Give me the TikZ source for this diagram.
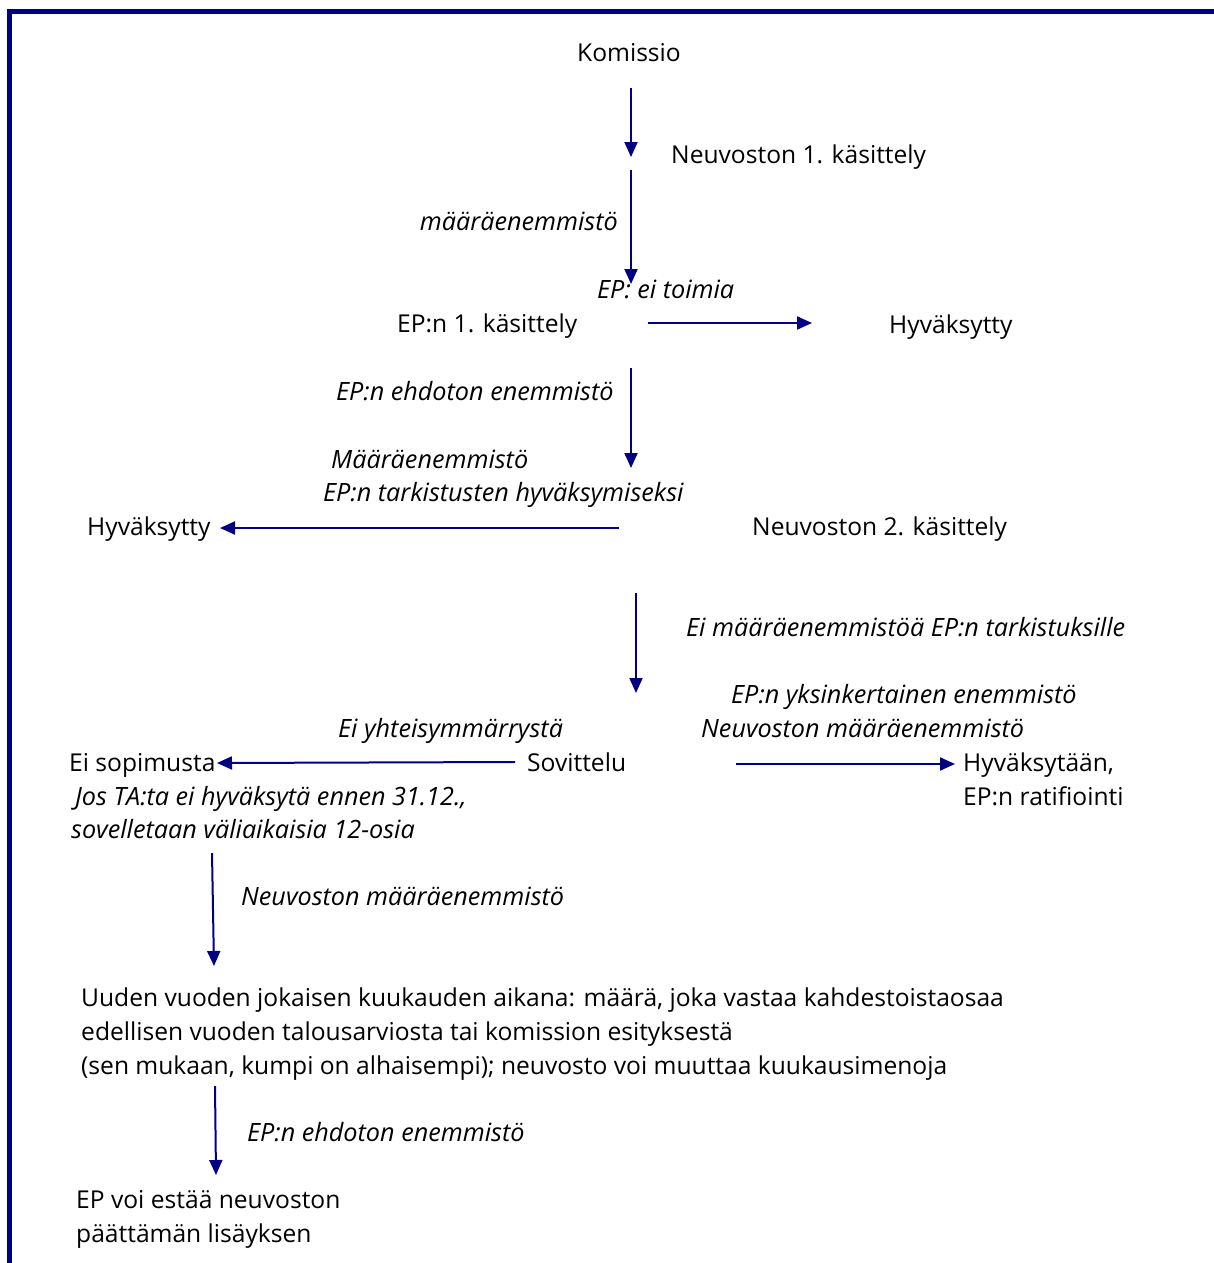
\documentclass[tikz,border=0pt]{standalone}
\usepackage{fontspec}
\setmainfont{Open Sans}
\usetikzlibrary{arrows.meta, positioning}
\definecolor{mNavy}{HTML}{000080}

\begin{document}
\begin{tikzpicture}[x=1pt, y=-1pt,
    lbl/.style={anchor=base west, inner sep=0pt, align=left, font=\fontsize{24.6}{34}\selectfont},
    cond/.style={lbl, font=\fontsize{25.2}{34}\selectfont\itshape},
    flow/.style={-{Triangle[length=15pt, width=13pt]}, line width=2pt, mNavy}]
    \useasboundingbox (0,0) rectangle (1214,1263);
    % frame
    \draw[mNavy, line width=5pt] (9.5,1263) -- (9.5,11.5) -- (1214,11.5);

    % stages (multi-line nodes sit on their last line)
    \node[lbl, anchor=base] (kom) at (629,62) {Komissio};
    \node[lbl] (neu1) at (671,163) {Neuvoston 1. käsittely};
    \node[lbl] (ep1) at (397,332) {EP:n 1. käsittely};
    \node[lbl] (hyv1) at (889,333) {Hyväksytty};
    \node[lbl] (hyv2) at (87,535) {Hyväksytty};
    \node[lbl] (neu2) at (752,535) {Neuvoston 2. käsittely};
    \node[lbl] (eisop) at (69,771) {Ei sopimusta};
    \node[lbl] (sov) at (527,771) {Sovittelu};
    \node[lbl] (hyv3) at (963,805) {Hyväksytään,\\EP:n ratifiointi};
    \node[lbl] (kk) at (81,1074) {Uuden vuoden jokaisen kuukauden aikana: määrä, joka vastaa kahdestoistaosaa\\edellisen vuoden talousarviosta tai komission esityksestä\\(sen mukaan, kumpi on alhaisempi); neuvosto voi muuttaa kuukausimenoja};
    \node[lbl] (est) at (76,1242) {EP voi estää neuvoston\\päättämän lisäyksen};

    % conditions
    \node[cond, anchor=base east] (c1) at (618,230) {määräenemmistö};
    \node[cond] (c2) at (597,298) {EP: ei toimia};
    \node[cond] (c3) at (336,400) {EP:n ehdoton enemmistö};
    \node[cond] (c4a) at (331,468) {Määräenemmistö};
    \node[cond] (c4b) at (323,501) {EP:n tarkistusten hyväksymiseksi};
    \node[cond] (c5) at (686,636) {Ei määräenemmistöä EP:n tarkistuksille};
    \node[cond] (c6a) at (731,703) {EP:n yksinkertainen enemmistö};
    \node[cond] (c6b) at (701,737) {Neuvoston määräenemmistö};
    \node[cond] (c7) at (338,737) {Ei yhteisymmärrystä};
    \node[cond] (c8a) at (75,805) {Jos TA:ta ei hyväksytä ennen 31.12.,};
    \node[cond] (c8b) at (71,838) {sovelletaan väliaikaisia 12-osia};
    \node[cond] (c9) at (241,905) {Neuvoston määräenemmistö};
    \node[cond] (c10) at (247,1141) {EP:n ehdoton enemmistö};

    % arrow ends
    \coordinate (a1s) at (631,88);   \coordinate (a1e) at (631,157);
    \coordinate (a2s) at (631,170);  \coordinate (a2e) at (631,284);
    \coordinate (a3s) at (648,323);  \coordinate (a3e) at (812,323);
    \coordinate (a4s) at (631,368);  \coordinate (a4e) at (631,468);
    \coordinate (a5s) at (619,528);  \coordinate (a5e) at (220,528);
    \coordinate (a6s) at (636,593);  \coordinate (a6e) at (636,693);
    \coordinate (a7s) at (515,762);  \coordinate (a7e) at (217,763);
    \coordinate (a8s) at (736,764);  \coordinate (a8e) at (955,764);
    \coordinate (a9s) at (212,853);  \coordinate (a9e) at (214,966);
    \coordinate (a10s) at (215,1086); \coordinate (a10e) at (216,1175);

    \draw[flow] (a1s) -- (a1e);
    \draw[flow] (a2s) -- (a2e);
    \draw[flow] (a3s) -- (a3e);
    \draw[flow] (a4s) -- (a4e);
    \draw[flow] (a5s) -- (a5e);
    \draw[flow] (a6s) -- (a6e);
    \draw[flow] (a7s) -- (a7e);
    \draw[flow] (a8s) -- (a8e);
    \draw[flow] (a9s) -- (a9e);
    \draw[flow] (a10s) -- (a10e);
\end{tikzpicture}
\end{document}
